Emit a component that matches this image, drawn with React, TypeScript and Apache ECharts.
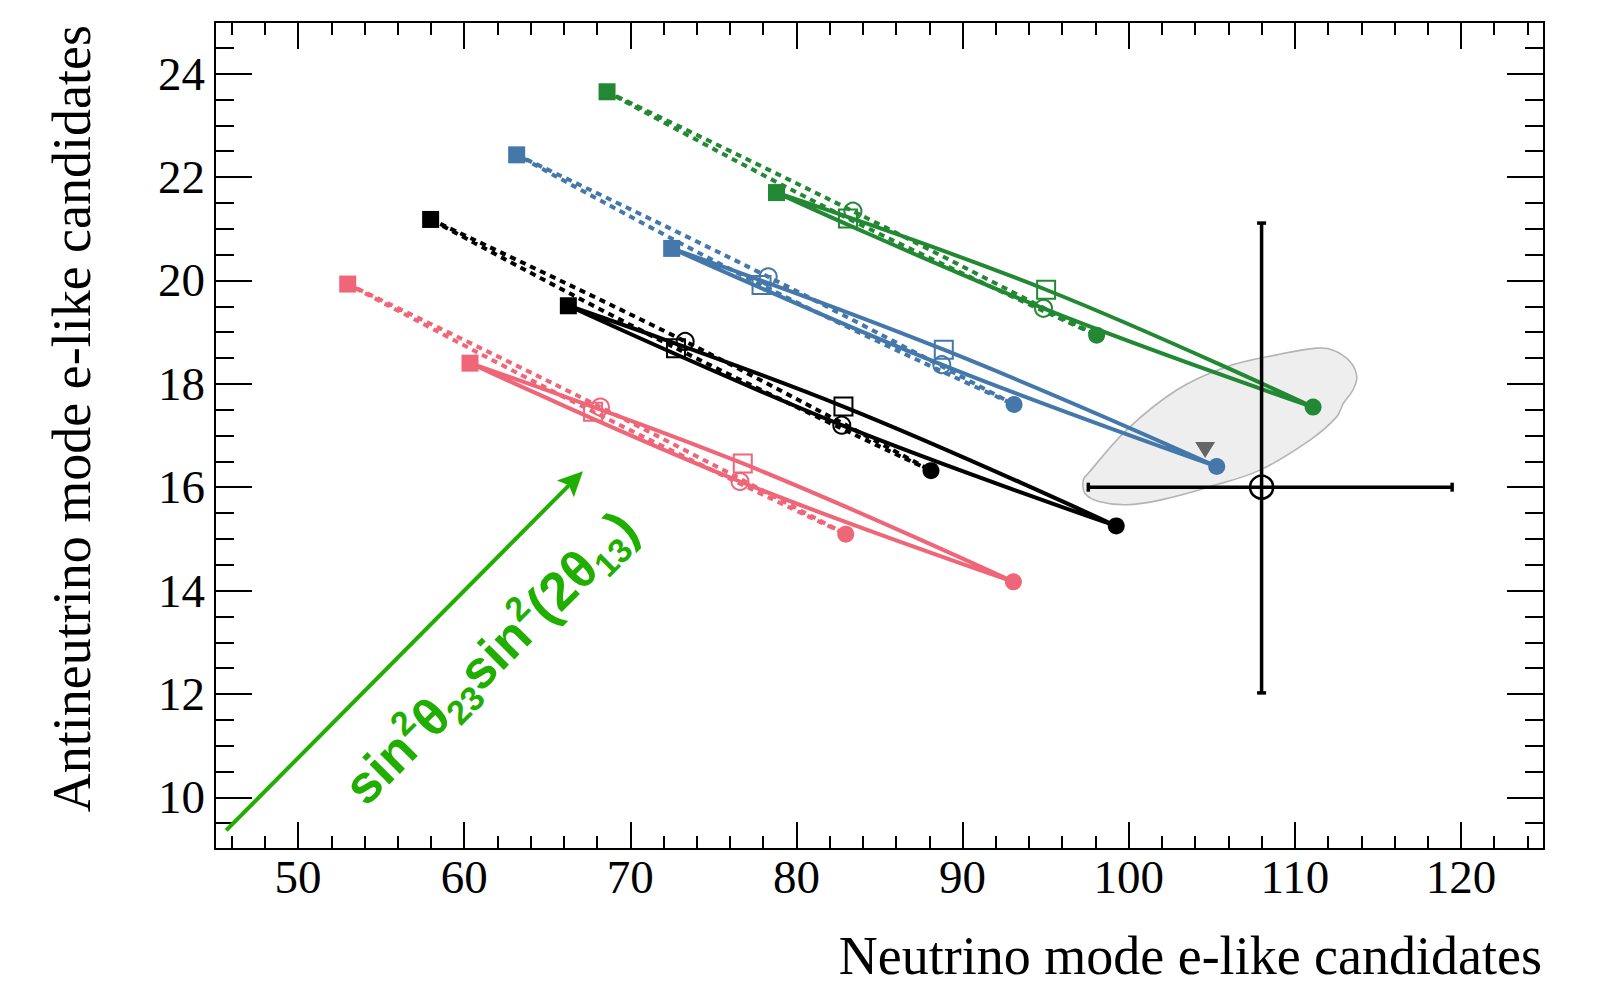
import React, { useEffect, useRef } from "react";
import * as echarts from "echarts";

// ---------- axes ----------
const X_MIN = 45;
const X_MAX = 125;
const Y_MIN = 9;
const Y_MAX = 25;
const xMajorTicks = [50, 60, 70, 80, 90, 100, 110, 120];
const xMinorTicks = [46, 48, 52, 54, 56, 58, 62, 64, 66, 68, 72, 74, 76, 78, 82, 84, 86, 88, 92, 94, 96, 98, 102, 104, 106, 108, 112, 114, 116, 118, 122, 124];
const yMajorTicks = [10, 12, 14, 16, 18, 20, 22, 24];
const yMinorTicks = [9.5, 10.5, 11, 11.5, 12.5, 13, 13.5, 14.5, 15, 15.5, 16.5, 17, 17.5, 18.5, 19, 19.5, 20.5, 21, 21.5, 22.5, 23, 23.5, 24.5];

const X_TITLE = "Neutrino mode e-like candidates";
const Y_TITLE = "Antineutrino mode e-like candidates";

// ---------- loops: [filled square, open circle, filled circle, open square] ----------
// IH = dashed, NH = solid
const pinkIH = [[52.99, 19.93], [68.2, 17.55], [82.97, 15.09], [67.76, 17.46]];
const pinkNH = [[60.35, 18.4], [76.6, 16.11], [93.06, 14.17], [76.77, 16.46]];
const blackIH = [[57.98, 21.18], [73.3, 18.82], [88.1, 16.32], [72.75, 18.69]];
const blackNH = [[66.27, 19.51], [82.73, 17.2], [99.25, 15.25], [82.83, 17.56]];
const blueIH = [[63.16, 22.43], [78.3, 20.07], [93.1, 17.6], [77.9, 19.91]];
const blueNH = [[72.49, 20.62], [88.75, 18.37], [105.3, 16.4], [88.87, 18.66]];
const greenIH = [[68.6, 23.65], [83.4, 21.34], [98.07, 18.94], [83.1, 21.2]];
const greenNH = [[78.8, 21.7], [94.87, 19.46], [111.1, 17.55], [95.03, 19.82]];

// ---------- best fit marker ----------
const bestFit = [[104.6, 16.72]];

// ---------- data point: x, y, xLow, xHigh, yLow, yHigh ----------
const dataPoint = [[108.0, 16.0, 97.57, 119.47, 12.02, 21.11]];

// ---------- contour (gray region) ----------
const contourX = [97.27, 97.57, 99.88, 102.89, 105.9, 108.91, 111.32, 112.32, 113.32, 113.73, 113.5, 112.92, 112.52, 110.91, 107.9, 104.89, 101.88, 99.88, 98.27, 97.37];
const contourY = [16.14, 16.27, 17.11, 17.88, 18.33, 18.56, 18.69, 18.65, 18.43, 18.14, 17.88, 17.62, 17.36, 16.91, 16.33, 16.01, 15.75, 15.66, 15.72, 15.88];

// ---------- arrow annotation ----------
const arrowSeg = [[45.67, 9.36, 67.15, 16.31]];
const arrowLabelPos = [53.3, 10.05];

const PINK = "#EE6677";
const BLACK = "#000000";
const BLUE = "#4477AA";
const GREEN = "#228833";
const ARROW_GREEN = "#20AF00";

const groups = [
  { color: PINK, ih: pinkIH, nh: pinkNH },
  { color: BLACK, ih: blackIH, nh: blackNH },
  { color: BLUE, ih: blueIH, nh: blueNH },
  { color: GREEN, ih: greenIH, nh: greenNH },
];

function buildOption(): any {
  const serif = "'Liberation Serif', 'Times New Roman', serif";
  const series: any[] = [];

  series.push({
    type: "custom",
    name: "contour",
    z: 1,
    silent: true,
    data: [[105, 17]],
    renderItem: (_p: any, api: any) => {
      const pts = contourX.map((x, i) => api.coord([x, contourY[i]]));
      return {
        type: "polygon",
        shape: { points: pts, smooth: 0.35 },
        style: { fill: "#eeeeee", stroke: "#b4b4b4", lineWidth: 1.6 },
      };
    },
  });

  groups.forEach((g) => {
    [
      { d: g.ih, dashed: true },
      { d: g.nh, dashed: false },
    ].forEach(({ d, dashed }) => {
      series.push({
        type: "line",
        data: [...d, d[0]],
        smooth: 0.4,
        showSymbol: false,
        symbol: "none",
        silent: true,
        z: 2,
        lineStyle: { color: g.color, width: 4, opacity: 1, type: dashed ? [6, 5] : "solid" },
      });
    });
  });

  groups.forEach((g) => {
    const open = { color: "rgba(0,0,0,0)", borderColor: g.color, borderWidth: 2, opacity: 1 };
    series.push({ type: "scatter", silent: true, z: 3, symbol: "rect", symbolSize: 17, itemStyle: { color: g.color, opacity: 1 }, data: [g.ih[0], g.nh[0]] });
    series.push({ type: "scatter", silent: true, z: 3, symbol: "circle", symbolSize: 17, itemStyle: { color: g.color, opacity: 1 }, data: [g.ih[2], g.nh[2]] });
    series.push({ type: "scatter", silent: true, z: 3, symbol: "circle", symbolSize: 17, itemStyle: open, data: [g.ih[1], g.nh[1]] });
    series.push({ type: "scatter", silent: true, z: 3, symbol: "rect", symbolSize: 18, itemStyle: open, data: [g.ih[3], g.nh[3]] });
  });

  series.push({
    type: "scatter",
    silent: true,
    z: 3,
    symbol: "triangle",
    symbolRotate: 180,
    symbolSize: [20, 16],
    itemStyle: { color: "#666666", opacity: 1 },
    data: bestFit,
  });

  series.push({
    type: "custom",
    name: "data",
    z: 4,
    silent: true,
    data: dataPoint,
    renderItem: (_p: any, api: any) => {
      const x = api.value(0), y = api.value(1);
      const c = api.coord([x, y]);
      const l = api.coord([api.value(2), y]);
      const r = api.coord([api.value(3), y]);
      const b = api.coord([x, api.value(4)]);
      const t = api.coord([x, api.value(5)]);
      const st = { stroke: "#000", lineWidth: 3.5 };
      const cap = 4.5;
      return {
        type: "group",
        children: [
          { type: "line", shape: { x1: l[0], y1: l[1], x2: r[0], y2: r[1] }, style: st },
          { type: "line", shape: { x1: b[0], y1: b[1], x2: t[0], y2: t[1] }, style: st },
          { type: "line", shape: { x1: l[0], y1: l[1] - cap, x2: l[0], y2: l[1] + cap }, style: st },
          { type: "line", shape: { x1: r[0], y1: r[1] - cap, x2: r[0], y2: r[1] + cap }, style: st },
          { type: "line", shape: { x1: b[0] - cap, y1: b[1], x2: b[0] + cap, y2: b[1] }, style: st },
          { type: "line", shape: { x1: t[0] - cap, y1: t[1], x2: t[0] + cap, y2: t[1] }, style: st },
          { type: "circle", shape: { cx: c[0], cy: c[1], r: 11.5 }, style: { fill: "none", stroke: "#000", lineWidth: 2.5 } },
        ],
      };
    },
  });

  const sans = "'Liberation Sans', Arial, sans-serif";
  series.push({
    type: "custom",
    name: "arrow",
    z: 5,
    silent: true,
    data: arrowSeg,
    renderItem: (_p: any, api: any) => {
      const p0 = api.coord([api.value(0), api.value(1)]);
      const p1 = api.coord([api.value(2), api.value(3)]);
      const dx = p1[0] - p0[0], dy = p1[1] - p0[1];
      const len = Math.sqrt(dx * dx + dy * dy);
      const ux = dx / len, uy = dy / len;
      const nx = -uy, ny = ux;
      const hl = 25, hw = 12, notch = 5;
      const base = [p1[0] - ux * hl, p1[1] - uy * hl];
      const inner = [p1[0] - ux * (hl - notch), p1[1] - uy * (hl - notch)];
      const lp = api.coord(arrowLabelPos);
      const m = { fontSize: 53, fontWeight: "bold", fontFamily: sans, fill: ARROW_GREEN, color: ARROW_GREEN, lineHeight: 66 };
      const sm = { fontSize: 34, fontWeight: "bold", fontFamily: sans, fill: ARROW_GREEN, color: ARROW_GREEN };
      return {
        type: "group",
        children: [
          { type: "line", shape: { x1: p0[0], y1: p0[1], x2: inner[0], y2: inner[1] }, style: { stroke: ARROW_GREEN, lineWidth: 4 } },
          {
            type: "polygon",
            shape: {
              points: [
                [p1[0], p1[1]],
                [base[0] + nx * hw, base[1] + ny * hw],
                [inner[0], inner[1]],
                [base[0] - nx * hw, base[1] - ny * hw],
              ],
            },
            style: { fill: ARROW_GREEN },
          },
          {
            type: "text",
            x: lp[0],
            y: lp[1],
            rotation: Math.PI / 4,
            style: {
              text: "{m|sin}{p|2}{m|θ}{s|23}{m|sin}{p|2}{m|(2θ}{s|13}{m|)}",
              textAlign: "left",
              textVerticalAlign: "middle",
              fill: ARROW_GREEN,
              rich: {
                m: m,
                p: { ...sm, verticalAlign: "top" },
                s: { ...sm, verticalAlign: "bottom" },
              },
            },
          },
        ],
      };
    },
  });

  const majorX = {
    show: true, inside: true, length: 27, customValues: xMajorTicks,
    lineStyle: { color: "#000", width: 2 },
  };
  const minorX = {
    show: true, inside: true, length: 13, customValues: xMinorTicks,
    lineStyle: { color: "#000", width: 2 },
  };
  const majorY = {
    show: true, inside: true, length: 37, customValues: yMajorTicks,
    lineStyle: { color: "#000", width: 2 },
  };
  const minorY = {
    show: true, inside: true, length: 19, customValues: yMinorTicks,
    lineStyle: { color: "#000", width: 2 },
  };
  const line = { show: true, onZero: false, lineStyle: { color: "#000", width: 2 } };
  const noLine = { show: false, onZero: false };
  const baseX = { type: "value", min: X_MIN, max: X_MAX, splitLine: { show: false }, silent: true };
  const baseY = { type: "value", min: Y_MIN, max: Y_MAX, splitLine: { show: false }, silent: true };

  return {
    animation: false,
    backgroundColor: "#ffffff",
    grid: { left: 215, right: 54, top: 22, bottom: 138, outerBoundsMode: "none", containLabel: false },
    xAxis: [
      {
        ...baseX, position: "bottom", axisLine: line, axisTick: majorX,
        axisLabel: { show: true, customValues: xMajorTicks, margin: 4, fontSize: 47, fontFamily: serif, color: "#000" },
      },
      { ...baseX, position: "bottom", axisLine: noLine, axisTick: minorX, axisLabel: { show: false } },
      { ...baseX, position: "top", axisLine: line, axisTick: majorX, axisLabel: { show: false } },
      { ...baseX, position: "top", axisLine: noLine, axisTick: minorX, axisLabel: { show: false } },
    ],
    yAxis: [
      {
        ...baseY, position: "left", axisLine: line, axisTick: majorY,
        axisLabel: { show: true, customValues: yMajorTicks, margin: 10, fontSize: 47, fontFamily: serif, color: "#000" },
      },
      { ...baseY, position: "left", axisLine: noLine, axisTick: minorY, axisLabel: { show: false } },
      { ...baseY, position: "right", axisLine: line, axisTick: majorY, axisLabel: { show: false } },
      { ...baseY, position: "right", axisLine: noLine, axisTick: minorY, axisLabel: { show: false } },
    ],
    graphic: [
      {
        type: "text",
        x: 1542,
        y: 956,
        silent: true,
        style: { text: X_TITLE, fontSize: 54, fontFamily: serif, fill: "#000", textAlign: "right", textVerticalAlign: "middle" },
      },
      {
        type: "text",
        x: 72,
        y: 25,
        rotation: Math.PI / 2,
        silent: true,
        style: { text: Y_TITLE, fontSize: 54, fontFamily: serif, fill: "#000", textAlign: "right", textVerticalAlign: "middle" },
      },
    ],
    series: series,
  };
}

export default function App() {
  const ref = useRef<HTMLDivElement>(null);
  useEffect(() => {
    document.body.style.margin = "0";
    if (!ref.current) return;
    const chart = echarts.init(ref.current, null, { renderer: "svg" });
    chart.setOption(buildOption());
    return () => {
      chart.dispose();
    };
  }, []);
  return <div ref={ref} style={{ width: 1598, height: 987 }} />;
}
